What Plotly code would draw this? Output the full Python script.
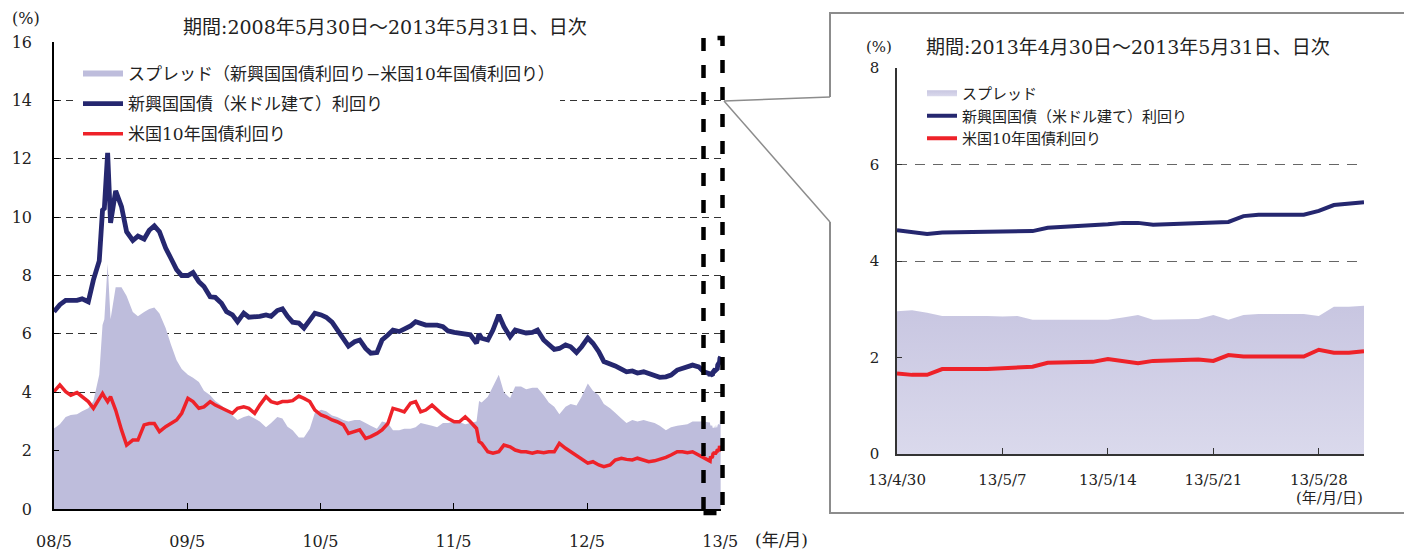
import plotly.graph_objects as go

# the page body has an 8px margin, so the figure is drawn 8px smaller and
# all positions below are given in window pixels and converted
W, H = 1412, 551
OFF = 8
FW, FH = W - OFF, H - OFF
FONT = "DejaVu Serif, Noto Sans CJK JP, serif"
NAVY = "#25276F"
RED = "#EE2229"
SPREAD = "#BEBDDC"

# semi-monthly readings, 2008/5/30 - 2013/4/15
main_dates = [
    "2008-05-30", "2008-06-15", "2008-07-01", "2008-07-15", "2008-08-01", "2008-08-15",
    "2008-09-01", "2008-09-15", "2008-10-01", "2008-10-10", "2008-10-15", "2008-10-24",
    "2008-11-01", "2008-11-15", "2008-12-01", "2008-12-15",
    "2009-01-01", "2009-01-15", "2009-02-01", "2009-02-15", "2009-03-01", "2009-03-15",
    "2009-04-01", "2009-04-15", "2009-05-01", "2009-05-15", "2009-06-01", "2009-06-15",
    "2009-07-01", "2009-07-15", "2009-08-01", "2009-08-15", "2009-09-01", "2009-09-15",
    "2009-10-01", "2009-10-15", "2009-11-01", "2009-11-15", "2009-12-01", "2009-12-15",
    "2010-01-01", "2010-01-15", "2010-02-01", "2010-02-15", "2010-03-01", "2010-03-15",
    "2010-04-01", "2010-04-15", "2010-05-01", "2010-05-15", "2010-06-01", "2010-06-15",
    "2010-07-01", "2010-07-15", "2010-08-01", "2010-08-15", "2010-09-01", "2010-09-15",
    "2010-10-01", "2010-10-15", "2010-11-01", "2010-11-15", "2010-12-01", "2010-12-15",
    "2011-01-01", "2011-01-15", "2011-02-01", "2011-02-15", "2011-03-01", "2011-03-15",
    "2011-04-01", "2011-04-15", "2011-05-01", "2011-05-15", "2011-06-01", "2011-06-15",
    "2011-07-01", "2011-07-15", "2011-08-01", "2011-08-08", "2011-08-15", "2011-09-01",
    "2011-09-15", "2011-10-01", "2011-10-15", "2011-11-01", "2011-11-15", "2011-12-01",
    "2011-12-15",
    "2012-01-01", "2012-01-15", "2012-02-01", "2012-02-15", "2012-03-01", "2012-03-15",
    "2012-04-01", "2012-04-15", "2012-05-01", "2012-05-15", "2012-06-01", "2012-06-15",
    "2012-07-01", "2012-07-15", "2012-08-01", "2012-08-15", "2012-09-01", "2012-09-15",
    "2012-10-01", "2012-10-15", "2012-11-01", "2012-11-15", "2012-12-01", "2012-12-15",
    "2013-01-01", "2013-01-15", "2013-02-01", "2013-02-15", "2013-03-01", "2013-03-15",
    "2013-04-01", "2013-04-15",
]
em_main = [
    6.76, 7.0, 7.15, 7.15, 7.15, 7.2, 7.1, 7.85, 8.5, 10.24, 10.3, 12.2, 9.8, 10.9, 10.36, 9.5,
    9.2, 9.35, 9.25, 9.55, 9.7, 9.5, 8.94, 8.6, 8.2, 8.0, 8.0, 8.1, 7.79, 7.62, 7.27, 7.25,
    7.05, 6.76, 6.65, 6.42, 6.71, 6.57, 6.57, 6.6,
    6.65, 6.6, 6.8, 6.86, 6.6, 6.4, 6.37, 6.2, 6.47, 6.71, 6.65, 6.57, 6.4, 6.15, 5.9, 5.58,
    5.73, 5.79, 5.5, 5.34, 5.36, 5.79, 5.96, 6.13,
    6.08, 6.16, 6.27, 6.42, 6.37, 6.3, 6.3, 6.3, 6.25, 6.1, 6.05, 6.03, 6.03, 5.97, 5.68, 6.0,
    5.85, 5.79, 6.13, 6.65, 6.25, 5.9, 6.13, 6.08, 6.03,
    6.05, 6.13, 5.79, 5.62, 5.47, 5.5, 5.62, 5.56, 5.36, 5.56, 5.86, 5.68, 5.39, 5.05, 4.99, 4.9,
    4.79, 4.7, 4.73, 4.66, 4.7, 4.65, 4.55, 4.51,
    4.53, 4.59, 4.76, 4.82, 4.85, 4.93, 4.87, 4.7,
]
us_main = [
    4.02, 4.25, 4.02, 3.9, 3.99, 3.85, 3.68, 3.45, 3.79, 3.96, 3.85, 3.68, 3.85, 3.39, 2.71, 2.19,
    2.36, 2.36, 2.88, 2.93, 2.93, 2.65, 2.82, 2.93, 3.05, 3.28, 3.79, 3.68, 3.45, 3.5, 3.68, 3.56,
    3.45, 3.39, 3.28, 3.45, 3.5, 3.45, 3.28, 3.56,
    3.85, 3.68, 3.62, 3.68, 3.68, 3.71, 3.87, 3.79, 3.68, 3.39, 3.22, 3.16, 3.05, 2.99, 2.88, 2.59,
    2.65, 2.71, 2.42, 2.48, 2.59, 2.71, 2.93, 3.45,
    3.39, 3.33, 3.62, 3.68, 3.33, 3.39, 3.56, 3.39, 3.22, 3.1, 2.99, 2.99, 3.16, 2.99, 2.76, 2.31,
    2.25, 1.96, 1.91, 1.96, 2.19, 2.13, 2.02, 1.96, 1.96,
    1.91, 1.96, 1.93, 1.96, 1.96, 2.25, 2.08, 1.96, 1.82, 1.68, 1.57, 1.62, 1.51, 1.45, 1.51, 1.68,
    1.74, 1.7, 1.68, 1.74, 1.68, 1.62, 1.65, 1.7,
    1.77, 1.85, 1.96, 1.96, 1.93, 1.96, 1.85, 1.74,
]
spread_main = [
    2.76, 2.9, 3.15, 3.22, 3.25, 3.35, 3.45, 3.7, 4.6, 6.3, 6.5, 8.4, 6.5, 7.6, 7.6, 7.3,
    6.75, 6.6, 6.75, 6.85, 6.9, 6.7, 6.2, 5.65, 5.1, 4.8, 4.6, 4.5, 4.35, 4.05, 3.9, 3.7,
    3.55, 3.4, 3.2, 3.05, 3.15, 3.2, 3.1, 3.0,
    2.8, 2.95, 3.15, 3.1, 2.82, 2.7, 2.45, 2.45, 2.75, 3.3, 3.4, 3.35, 3.2, 3.15, 3.05, 3.0,
    3.05, 3.05, 2.95, 2.85, 2.75, 3.0, 2.95, 2.7,
    2.7, 2.75, 2.75, 2.8, 2.95, 2.9, 2.85, 2.8, 2.95, 2.95, 3.0, 2.98, 2.9, 2.95, 3.0, 3.7,
    3.65, 3.85, 4.2, 4.6, 4.0, 3.8, 4.2, 4.2, 4.1,
    4.15, 4.15, 3.9, 3.65, 3.5, 3.25, 3.5, 3.6, 3.55, 3.85, 4.3, 4.05, 3.9, 3.6, 3.45, 3.3,
    3.1, 2.95, 3.05, 3.0, 3.05, 3.0, 2.95, 2.85,
    2.7, 2.8, 2.85, 2.88, 2.9, 3.0, 3.0, 3.0,
]

# daily readings, 2013/4/30 - 2013/5/31 (inset)
may_dates = [
    "2013-04-30", "2013-05-01", "2013-05-02", "2013-05-03", "2013-05-06", "2013-05-07",
    "2013-05-08", "2013-05-09", "2013-05-10", "2013-05-13", "2013-05-14", "2013-05-15",
    "2013-05-16", "2013-05-17", "2013-05-20", "2013-05-21", "2013-05-22", "2013-05-23",
    "2013-05-24", "2013-05-27", "2013-05-28", "2013-05-29", "2013-05-30", "2013-05-31",
]
em_may = [4.64, 4.61, 4.56, 4.59, 4.60, 4.61, 4.61, 4.62, 4.69, 4.73, 4.76, 4.79,
          4.79, 4.75, 4.78, 4.81, 4.81, 4.93, 4.96, 4.96, 5.04, 5.16, 5.19, 5.22]
us_may = [1.67, 1.64, 1.64, 1.76, 1.76, 1.77, 1.78, 1.81, 1.89, 1.91, 1.97, 1.93,
          1.88, 1.93, 1.96, 1.93, 2.05, 2.02, 2.02, 2.02, 2.16, 2.10, 2.10, 2.13]
spread_may = [2.96, 2.98, 2.93, 2.86, 2.86, 2.85, 2.86, 2.78, 2.78, 2.78, 2.78, 2.83,
              2.88, 2.78, 2.80, 2.88, 2.78, 2.88, 2.90, 2.90, 2.86, 3.05, 3.05, 3.07]

main_tickvals = ["2008-05-30", "2009-05-30", "2010-05-30", "2011-05-30", "2012-05-30", "2013-05-30"]
main_ticktext = ["08/5", "09/5", "10/5", "11/5", "12/5", "13/5"]
inset_tickvals = ["2013-04-30", "2013-05-07", "2013-05-14", "2013-05-21", "2013-05-28"]
inset_ticktext = ["13/4/30", "13/5/7", "13/5/14", "13/5/21", "13/5/28"]

NAME_SPREAD = "スプレッド（新興国国債利回り−米国10年国債利回り）"
NAME_EM = "新興国国債（米ドル建て）利回り"
NAME_US = "米国10年国債利回り"


def px(x):
    return (x - OFF) / FW


def py(y):
    return 1 - (y - OFF) / FH


all_dates = main_dates + may_dates
fig = go.Figure()

# left panel
fig.add_trace(go.Scatter(x=all_dates, y=spread_main + spread_may, name=NAME_SPREAD, mode="none",
                         fill="tozeroy", fillcolor=SPREAD, legendgroup="a", legend="legend"))
fig.add_trace(go.Scatter(x=all_dates, y=em_main + em_may, name=NAME_EM, mode="lines",
                         line=dict(color=NAVY, width=4.8), legendgroup="b", legend="legend"))
fig.add_trace(go.Scatter(x=all_dates, y=us_main + us_may, name=NAME_US, mode="lines",
                         line=dict(color=RED, width=3.5), legendgroup="c", legend="legend"))

# inset
fig.add_trace(go.Scatter(x=may_dates, y=spread_may, name="スプレッド", mode="none", fill="tozeroy",
                         fillcolor="#D0CEE6",
                         fillgradient=dict(type="vertical", colorscale=[[0, "#DAD9EC"], [1, "#C8C6E1"]]),
                         xaxis="x2", yaxis="y2", legendgroup="d", legend="legend2"))
fig.add_trace(go.Scatter(x=may_dates, y=em_may, name=NAME_EM, mode="lines",
                         line=dict(color=NAVY, width=4), xaxis="x2", yaxis="y2",
                         legendgroup="e", legend="legend2"))
fig.add_trace(go.Scatter(x=may_dates, y=us_may, name=NAME_US, mode="lines",
                         line=dict(color=RED, width=4), xaxis="x2", yaxis="y2",
                         legendgroup="f", legend="legend2"))

axis_common = dict(showline=True, ticks="inside", zeroline=False, fixedrange=True, automargin=False)

shapes = [
    # dashed box on the last month
    dict(type="rect", xref="paper", yref="paper", x0=px(703.5), x1=px(722.5), y0=py(513), y1=py(38),
         line=dict(color="black", width=4.5, dash="13px,14px")),
    # connectors
    dict(type="line", xref="paper", yref="paper", x0=px(724), y0=py(101), x1=px(830), y1=py(97),
         line=dict(color="#8C8C8C", width=1.5)),
    dict(type="line", xref="paper", yref="paper", x0=px(724), y0=py(101), x1=px(830), y1=py(222),
         line=dict(color="#8C8C8C", width=1.5)),
    # inset frame
    dict(type="path", xref="paper", yref="paper",
         path=f"M{px(830)},{py(97)} L{px(830)},{py(13)} L{px(1405)},{py(13)} L{px(1405)},{py(513)} "
              f"L{px(830)},{py(513)} L{px(830)},{py(222)}",
         line=dict(color="#8C8C8C", width=2)),
]

ann = dict(xref="paper", yref="paper", showarrow=False, xanchor="center", yanchor="middle",
           font=dict(size=16, color="#222"))
annotations = [
    dict(ann, x=px(26), y=py(19), text="(%)"),
    dict(ann, x=px(385), y=py(27), text="期間:2008年5月30日～2013年5月31日、日次", font=dict(size=19, color="#222")),
    dict(ann, x=px(781), y=py(540), text="(年/月)", font=dict(size=17, color="#222")),
    dict(ann, x=px(879), y=py(47), text="(%)", font=dict(size=15, color="#222")),
    dict(ann, x=px(1128), y=py(47), text="期間:2013年4月30日～2013年5月31日、日次", font=dict(size=19, color="#222")),
    dict(ann, x=px(1329), y=py(498), text="(年/月/日)", font=dict(size=15, color="#222")),
]

fig.update_layout(
    width=FW, height=FH,
    margin=dict(l=0, r=0, t=0, b=0, pad=0, autoexpand=False),
    paper_bgcolor="white", plot_bgcolor="white",
    font=dict(family=FONT, color="#222", size=16),
    xaxis=dict(axis_common, type="date", domain=[px(54), px(721)], range=["2008-05-30", "2013-06-01"],
               tickvals=main_tickvals, ticktext=main_ticktext, ticklen=6, tickcolor="black",
               linecolor="black", linewidth=1.5, showgrid=False, tickfont=dict(size=16),
               ticklabelstandoff=17, anchor="y"),
    yaxis=dict(axis_common, domain=[py(509), py(42)], range=[0, 16], dtick=2, ticklen=5,
               tickcolor="black", linecolor="black", linewidth=1.5, showgrid=True,
               gridcolor="#333", griddash="7px,5px", gridwidth=1, tickfont=dict(size=16),
               ticklabelstandoff=17, anchor="x"),
    xaxis2=dict(axis_common, type="date", domain=[px(897), px(1364)], range=["2013-04-30", "2013-05-31"],
                tickvals=inset_tickvals, ticktext=inset_ticktext, ticklen=6, tickcolor="#333",
                linecolor="#333", linewidth=1.5, showgrid=False, tickfont=dict(size=15),
                ticklabelstandoff=11, anchor="y2"),
    yaxis2=dict(axis_common, domain=[py(454), py(68)], range=[0, 8], dtick=2, ticklen=5,
                tickcolor="#333", linecolor="#333", linewidth=1.5, showgrid=True,
                gridcolor="#666", griddash="10px,8px", gridwidth=1.2, tickfont=dict(size=15),
                ticklabelstandoff=13, anchor="x2"),
    legend=dict(x=px(78), y=py(56), xanchor="left", yanchor="top", bgcolor="white",
                font=dict(size=17), tracegroupgap=5, itemwidth=40),
    legend2=dict(x=px(922), y=py(77), xanchor="left", yanchor="top", bgcolor="rgba(0,0,0,0)",
                 font=dict(size=15), tracegroupgap=0, itemwidth=30),
    shapes=shapes,
    annotations=annotations,
    showlegend=True,
)

fig.write_html("out.html")
